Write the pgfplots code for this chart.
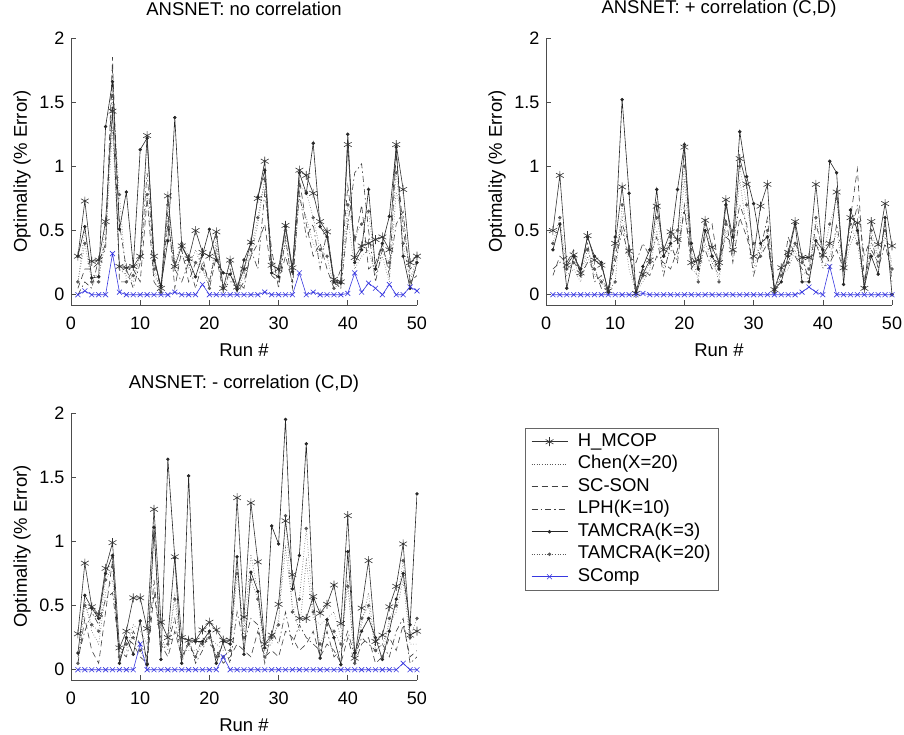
\documentclass[border=0pt]{standalone}
\usepackage{pgfplots}
\pgfplotsset{compat=1.18}
\usepackage{pgfplotstable}
\usepackage{fontspec}
\setmainfont{Liberation Sans}

\pgfplotstableread{
run H C S L T3 T20 SC
1 0.30 0.10 0.05 0.00 0.30 0.10 0.00
2 0.73 0.50 0.20 0.10 0.53 0.40 0.03
3 0.26 0.15 0.20 0.05 0.13 0.10 0.00
4 0.27 0.15 0.25 0.28 0.14 0.10 0.00
5 0.57 0.40 0.40 0.35 1.31 0.55 0.00
6 1.43 1.30 1.85 1.75 1.66 1.55 0.32
7 0.22 0.20 0.10 0.55 0.51 0.78 0.02
8 0.21 0.15 0.10 0.20 0.80 0.10 0.00
9 0.22 0.10 0.20 0.05 0.22 0.15 0.00
10 0.30 0.30 0.10 0.25 1.13 0.30 0.00
11 1.24 1.20 0.75 0.95 1.22 0.78 0.00
12 0.30 0.15 0.10 0.25 0.27 0.20 0.00
13 0.05 0.05 0.02 0.05 0.07 0.02 0.00
14 0.77 0.60 0.65 0.55 0.42 0.70 0.00
15 0.22 0.20 0.05 0.20 1.38 0.25 0.02
16 0.38 0.30 0.35 0.10 0.38 0.40 0.00
17 0.28 0.20 0.10 0.25 0.27 0.30 0.00
18 0.50 0.35 0.25 0.05 0.14 0.25 0.00
19 0.33 0.20 0.30 0.25 0.31 0.20 0.08
20 0.30 0.10 0.05 0.10 0.51 0.05 0.00
21 0.49 0.40 0.30 0.35 0.27 0.45 0.00
22 0.05 0.05 0.02 0.05 0.17 0.05 0.00
23 0.27 0.15 0.20 0.10 0.16 0.25 0.00
24 0.06 0.05 0.02 0.10 0.04 0.05 0.00
25 0.20 0.15 0.10 0.05 0.27 0.20 0.00
26 0.41 0.30 0.30 0.35 0.40 0.35 0.00
27 0.75 0.55 0.40 0.20 0.76 0.60 0.00
28 1.04 0.90 0.55 0.80 0.97 0.90 0.02
29 0.23 0.20 0.15 0.35 0.17 0.25 0.00
30 0.20 0.15 0.10 0.05 0.14 0.20 0.00
31 0.54 0.40 0.30 0.45 0.53 0.50 0.00
32 0.21 0.15 0.10 0.05 0.18 0.20 0.00
33 0.97 0.75 0.90 0.80 0.95 0.85 0.17
34 0.93 0.60 0.55 0.45 0.79 0.80 0.00
35 0.79 0.40 0.30 0.55 1.18 0.60 0.02
36 0.57 0.30 0.40 0.20 0.53 0.35 0.00
37 0.49 0.45 0.20 0.50 0.45 0.30 0.00
38 0.12 0.10 0.05 0.10 0.10 0.05 0.00
39 0.10 0.05 0.20 0.05 0.09 0.10 0.00
40 1.17 0.60 0.85 0.55 1.25 0.70 0.01
41 0.29 0.20 0.40 0.95 0.25 0.45 0.17
42 0.38 0.30 0.70 1.02 0.35 0.55 0.02
43 0.40 0.35 0.20 0.50 0.82 0.65 0.09
44 0.43 0.15 0.25 0.10 0.20 0.20 0.05
45 0.45 0.30 0.40 0.35 0.40 0.35 0.00
46 0.35 0.10 0.15 0.20 0.61 0.25 0.08
47 1.17 0.80 1.10 0.55 1.15 0.95 0.00
48 0.82 0.60 0.50 0.65 0.30 0.40 0.00
49 0.25 0.15 0.20 0.10 0.05 0.10 0.06
50 0.30 0.20 0.25 0.15 0.25 0.30 0.03
}\dataA

\pgfplotstableread{
run H C S L T3 T20 SC
1 0.50 0.35 0.15 0.20 0.35 0.40 0.00
2 0.93 0.55 0.30 0.25 0.55 0.60 0.00
3 0.23 0.15 0.25 0.30 0.05 0.20 0.00
4 0.31 0.20 0.35 0.25 0.30 0.25 0.00
5 0.17 0.10 0.15 0.20 0.20 0.15 0.00
6 0.46 0.30 0.25 0.40 0.45 0.35 0.00
7 0.27 0.15 0.20 0.10 0.30 0.20 0.00
8 0.23 0.10 0.05 0.15 0.25 0.10 0.00
9 0.03 0.02 0.05 0.02 0.02 0.03 0.00
10 0.40 0.35 0.30 0.25 0.45 0.10 0.00
11 0.84 0.60 0.55 0.50 1.52 0.70 0.00
12 0.34 0.20 0.40 0.30 0.79 0.35 0.00
13 0.01 0.02 0.05 0.25 0.02 0.05 0.00
14 0.16 0.10 0.20 0.40 0.22 0.15 0.01
15 0.27 0.20 0.15 0.30 0.35 0.25 0.00
16 0.69 0.50 0.30 0.45 0.82 0.60 0.00
17 0.35 0.20 0.25 0.15 0.30 0.30 0.00
18 0.49 0.35 0.20 0.40 0.40 0.45 0.00
19 0.43 0.30 0.35 0.25 0.82 0.50 0.00
20 1.15 0.90 0.65 0.70 1.17 1.00 0.00
21 0.25 0.20 0.30 0.20 0.40 0.35 0.00
22 0.27 0.15 0.20 0.30 0.20 0.10 0.00
23 0.58 0.40 0.45 0.35 0.50 0.55 0.00
24 0.37 0.25 0.55 0.20 0.30 0.30 0.00
25 0.25 0.15 0.20 0.25 0.20 0.10 0.00
26 0.74 0.50 0.60 0.45 0.70 0.55 0.00
27 0.35 0.30 0.25 0.40 0.45 0.50 0.00
28 1.06 0.90 0.60 0.70 1.27 1.00 0.00
29 0.86 0.50 0.45 0.55 0.92 0.70 0.00
30 0.30 0.20 0.25 0.15 0.71 0.40 0.00
31 0.69 0.40 0.30 0.35 0.40 0.30 0.00
32 0.86 0.45 0.40 0.60 0.45 0.50 0.00
33 0.04 0.03 0.05 0.02 0.04 0.02 0.00
34 0.21 0.15 0.10 0.20 0.10 0.15 0.00
35 0.33 0.20 0.45 0.25 0.30 0.25 0.00
36 0.57 0.35 0.30 0.40 0.55 0.40 0.00
37 0.29 0.15 0.20 0.30 0.10 0.25 0.02
38 0.29 0.20 0.15 0.10 0.10 0.20 0.06
39 0.86 0.45 0.55 0.40 0.42 0.60 0.02
40 0.31 0.20 0.35 0.25 0.35 0.30 0.00
41 0.40 0.30 0.25 0.20 1.04 0.55 0.22
42 0.80 0.50 0.35 0.55 0.95 0.75 0.00
43 0.21 0.15 0.20 0.25 0.08 0.20 0.00
44 0.60 0.40 0.60 0.45 0.66 0.55 0.00
45 0.56 0.50 0.98 0.70 0.50 0.40 0.00
46 0.05 0.05 0.10 0.30 0.06 0.05 0.00
47 0.57 0.40 0.35 0.45 0.30 0.50 0.00
48 0.39 0.30 0.25 0.20 0.16 0.30 0.00
49 0.71 0.45 0.55 0.40 0.60 0.50 0.00
50 0.38 0.25 0.10 0.15 0.00 0.20 0.00
}\dataB

\pgfplotstableread{
run H C S L T3 T20 SC
1 0.28 0.05 0.05 0.10 0.13 0.05 0.00
2 0.83 0.55 0.40 0.30 0.58 0.50 0.00
3 0.49 0.30 0.15 0.45 0.48 0.35 0.00
4 0.43 0.20 0.05 0.35 0.40 0.30 0.00
5 0.79 0.60 0.45 0.55 0.75 0.70 0.00
6 0.99 0.70 0.85 0.60 0.89 0.80 0.00
7 0.17 0.10 0.05 0.15 0.05 0.10 0.00
8 0.30 0.15 0.25 0.10 0.25 0.20 0.00
9 0.56 0.35 0.20 0.30 0.12 0.25 0.00
10 0.56 0.30 0.10 0.20 0.38 0.15 0.20
11 0.32 0.20 0.05 0.10 0.04 0.05 0.00
12 1.25 1.10 0.60 0.70 1.11 1.05 0.00
13 0.37 0.25 0.20 0.15 0.08 0.20 0.00
14 0.25 0.15 0.10 0.20 1.64 0.20 0.00
15 0.88 0.60 0.30 0.40 0.87 0.55 0.00
16 0.25 0.15 0.10 0.05 0.05 0.10 0.00
17 0.23 0.15 0.20 0.25 1.51 0.20 0.00
18 0.23 0.15 0.10 0.05 0.22 0.10 0.00
19 0.31 0.20 0.25 0.15 0.22 0.20 0.00
20 0.37 0.25 0.20 0.30 0.30 0.25 0.00
21 0.31 0.20 0.15 0.10 0.05 0.10 0.00
22 0.23 0.15 0.05 0.20 0.22 0.10 0.10
23 0.23 0.15 0.10 0.05 0.20 0.15 0.00
24 1.34 0.80 0.20 0.45 0.88 0.75 0.00
25 0.41 0.30 0.15 0.20 0.12 0.25 0.00
26 1.30 0.90 0.10 0.40 0.76 0.70 0.00
27 0.84 0.60 0.30 0.35 0.61 0.55 0.00
28 0.20 0.15 0.10 0.05 0.17 0.10 0.00
29 0.27 0.20 0.15 0.30 1.12 0.25 0.00
30 0.51 0.40 0.10 0.20 0.98 0.35 0.00
31 1.16 0.95 0.30 0.45 1.95 1.20 0.00
32 0.74 0.50 0.25 0.20 0.63 0.45 0.00
33 0.40 0.30 0.15 0.35 0.89 0.55 0.00
34 0.40 0.85 0.20 0.25 1.76 1.10 0.00
35 0.57 0.40 0.30 0.20 0.55 0.45 0.00
36 0.44 0.35 0.10 0.15 0.09 0.20 0.00
37 0.51 0.40 0.20 0.30 0.39 0.35 0.00
38 0.66 0.45 0.15 0.10 0.25 0.30 0.00
39 0.36 0.25 0.05 0.15 0.04 0.20 0.00
40 1.20 0.70 0.25 0.30 0.92 0.65 0.00
41 0.09 0.05 0.05 0.10 0.13 0.05 0.00
42 0.48 0.35 0.20 0.25 0.30 0.40 0.00
43 0.85 0.60 0.25 0.20 0.40 0.50 0.00
44 0.22 0.15 0.05 0.15 0.25 0.15 0.00
45 0.27 0.20 0.10 0.20 0.08 0.10 0.00
46 0.49 0.35 0.25 0.10 0.30 0.40 0.00
47 0.65 0.45 0.15 0.30 0.55 0.50 0.00
48 0.98 0.70 0.35 0.40 0.75 0.85 0.05
49 0.27 0.20 0.10 0.05 0.35 0.25 0.00
50 0.30 0.20 0.15 0.10 1.37 0.40 0.00
}\dataC

\definecolor{mblue}{rgb}{0.22,0.22,0.88}
\newcommand{\fs}{\fontsize{18.5}{21}\selectfont}
\newcommand{\fst}{\fontsize{18}{20}\selectfont}

\pgfplotsset{
  hm/.style={black!80, line width=0.6pt, solid, mark=asterisk, mark size=4.5pt, mark options={solid}},
  chen/.style={black!65, line width=0.6pt, dotted, no markers},
  scson/.style={black!75, line width=0.6pt, dash pattern=on 6pt off 4pt, no markers},
  lph/.style={black!75, line width=0.6pt, dash pattern=on 6pt off 3pt on 1.5pt off 3pt, no markers},
  tk3/.style={black!85, line width=0.6pt, solid, mark=*, mark size=1.4pt, mark options={solid}},
  tk20/.style={black!65, line width=0.6pt, dotted, mark=*, mark size=1.4pt, mark options={solid}},
  scomp/.style={mblue, line width=0.6pt, solid, mark=x, mark size=3.5pt, mark options={solid}},
  mstyle/.style={
    scale only axis, width=346pt, height=267pt,
    xmin=0, xmax=50, ymin=-0.08, ymax=2,
    axis x line*=bottom, axis y line*=left,
    axis line style={black!70, line width=0.7pt, -},
    tick style={black!70, line width=0.6pt},
    tick align=inside, major tick length=5pt,
    xtick={0,10,20,30,40,50}, ytick={0,0.5,1,1.5,2},
    ticklabel style={font=\fst},
    /pgf/number format/assume math mode=true,
    xticklabel style={yshift=-8pt},
    yticklabel style={xshift=-3pt},
    xlabel={Run \#}, ylabel={Optimality (\% Error)},
    every axis x label/.style={at={(axis description cs:0.5,-0.168)}, anchor=center, font=\fs},
    every axis y label/.style={at={(axis description cs:-0.1416,0.5)}, rotate=90, anchor=center, font=\fs},
    title style={font=\fs, at={(axis description cs:0.5,1.086)}, anchor=center},
    legend image code/.code={\draw[mark repeat=2,mark phase=2,##1] plot coordinates {(0pt,0pt) (18pt,0pt) (36pt,0pt)};},
  }
}

\newcommand{\allplots}[1]{%
  \addplot[chen] table[x=run,y=C]{#1};
  \addplot[scson] table[x=run,y=S]{#1};
  \addplot[lph] table[x=run,y=L]{#1};
  \addplot[tk20] table[x=run,y=T20]{#1};
  \addplot[tk3] table[x=run,y=T3]{#1};
  \addplot[hm] table[x=run,y=H]{#1};
  \addplot[scomp] table[x=run,y=SC]{#1};
}

\begin{document}
\begin{tikzpicture}[x=1pt,y=1pt]
\useasboundingbox (0,0) rectangle (904,735);

\begin{axis}[mstyle, at={(71pt,430pt)}, anchor=south west, title={ANSNET: no correlation}]
\allplots{\dataA}
\end{axis}

\begin{axis}[mstyle, at={(546pt,430pt)}, anchor=south west, title={ANSNET: + correlation (C,D)}]
\allplots{\dataB}
\end{axis}

\begin{axis}[mstyle, at={(71pt,55pt)}, anchor=south west, title={ANSNET: - correlation (C,D)},
  legend style={at={(axis description cs:1.312,0.944)}, anchor=north west, font=\fs,
    draw=black!60, line width=0.6pt, fill=white, inner xsep=6pt, inner ysep=3pt,
    row sep=1.5pt, cells={anchor=west},
    /tikz/every odd column/.append style={column sep=8pt},
    nodes={inner sep=2pt, text height=13pt, text depth=4pt}},
  legend cell align=left]
\addlegendimage{hm}\addlegendentry{H\_MCOP}
\addlegendimage{chen}\addlegendentry{Chen(X=20)}
\addlegendimage{scson}\addlegendentry{SC-SON}
\addlegendimage{lph}\addlegendentry{LPH(K=10)}
\addlegendimage{tk3}\addlegendentry{TAMCRA(K=3)}
\addlegendimage{tk20}\addlegendentry{TAMCRA(K=20)}
\addlegendimage{scomp}\addlegendentry{SComp}
\allplots{\dataC}
\end{axis}
\end{tikzpicture}
\end{document}
